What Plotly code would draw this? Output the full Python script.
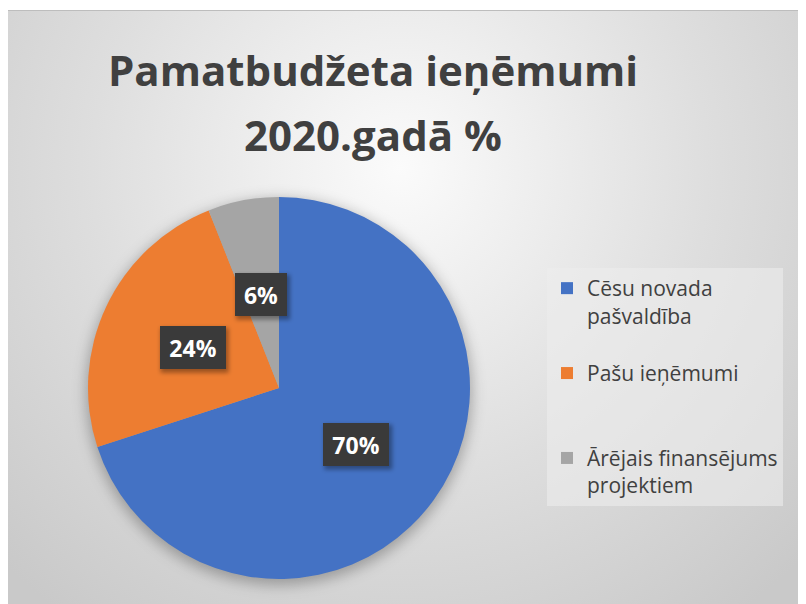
import base64
import math
import plotly.graph_objects as go

# ---- data ----
categories = ["Cēsu novada<br>pašvaldība<br> ", "Pašu ieņēmumi<br> <br> ", "Ārējais finansējums<br>projektiem"]
values = [70, 24, 6]
percent_labels = ["70%", "24%", "6%"]
colors = ["#4472C4", "#ED7D31", "#A5A5A5"]
title_lines = ["Pamatbudžeta ieņēmumi", "2020.gadā %"]

W, H = 806, 604
# pie geometry (pixels, figure coordinates; page adds an 8px body margin)
CX, CY, R = 271, 380, 191

# label boxes: half radius along each slice bisector
total = sum(values)
label_boxes = []
cum = 0
for v, lab in zip(values, percent_labels):
    theta = 2 * math.pi * (cum + v / 2) / total
    cum += v
    px = CX + 0.5 * R * math.sin(theta)
    py = CY - 0.5 * R * math.cos(theta)
    w = 14 * len(lab) + 14
    label_boxes.append((lab, px, py, w))

shadow_rects = "".join(
    f'<rect x="{px - (w + 12) / 2 + 2:.1f}" y="{py - 45 / 2 + 3:.1f}" width="{w + 12}" height="45" '
    f'fill="rgba(0,0,0,0.35)" filter="url(#s)"/>'
    for lab, px, py, w in label_boxes
)

svg = f'''<svg xmlns="http://www.w3.org/2000/svg" width="{W}" height="{H}" viewBox="0 0 {W} {H}">
<defs>
<radialGradient id="g" gradientUnits="userSpaceOnUse" cx="392" cy="160" r="560">
<stop offset="0" stop-color="#fbfbfb"/>
<stop offset="0.55" stop-color="#dedede"/>
<stop offset="1" stop-color="#c9c9c9"/>
</radialGradient>
<filter id="b" x="-30%" y="-30%" width="160%" height="160%"><feGaussianBlur stdDeviation="7"/></filter>
<filter id="s" x="-30%" y="-30%" width="160%" height="160%"><feGaussianBlur stdDeviation="2"/></filter>
</defs>
<rect x="0" y="0" width="{W}" height="{H}" fill="#ffffff"/>
<rect x="-0.5" y="2.5" width="{W + 10}" height="{H}" fill="url(#g)" stroke="#bdbdbd" stroke-width="1"/>
<circle cx="{CX}" cy="{CY + 4}" r="{R + 2}" fill="rgba(0,0,0,0.28)" filter="url(#b)"/>
</svg>'''
shadow_svg = f'''<svg xmlns="http://www.w3.org/2000/svg" width="{W}" height="{H}" viewBox="0 0 {W} {H}">
<defs><filter id="s" x="-30%" y="-30%" width="160%" height="160%"><feGaussianBlur stdDeviation="2"/></filter></defs>
{shadow_rects}
</svg>'''


def uri(s):
    return "data:image/svg+xml;base64," + base64.b64encode(s.encode("utf-8")).decode("ascii")


fig = go.Figure()
fig.add_trace(go.Pie(
    labels=categories,
    values=values,
    marker=dict(colors=colors, line=dict(width=0)),
    sort=False,
    direction="clockwise",
    rotation=0,
    textinfo="none",
    hoverinfo="label+percent",
    domain=dict(x=[(CX - R) / W, (CX + R) / W], y=[(H - CY - R) / H, (H - CY + R) / H]),
    showlegend=True,
))

annotations = []
title_y = [61, 126]
for txt, ty in zip(title_lines, title_y):
    annotations.append(dict(
        text=f"<b>{txt}</b>", x=365 / W, y=1 - ty / H, xref="paper", yref="paper",
        xanchor="center", yanchor="middle", showarrow=False,
        font=dict(family="Open Sans", size=42, color="#404040"),
    ))

for lab, px, py, w in label_boxes:
    annotations.append(dict(
        text=f"<b>{lab}</b>", x=px / W, y=1 - py / H, xref="paper", yref="paper", showarrow=False,
        xanchor="center", yanchor="middle", width=w, height=33, borderpad=5, borderwidth=0,
        bgcolor="#3a3a3a", font=dict(family="Open Sans", size=23, color="#ffffff"),
    ))

fig.update_layout(
    width=W, height=H,
    margin=dict(l=0, r=0, t=0, b=0),
    paper_bgcolor="#ffffff",
    plot_bgcolor="rgba(0,0,0,0)",
    images=[
        dict(source=uri(svg), xref="paper", yref="paper", x=0, y=1, sizex=1, sizey=1,
             xanchor="left", yanchor="top", sizing="stretch", layer="below"),
        dict(source=uri(shadow_svg), xref="paper", yref="paper", x=0, y=1, sizex=1, sizey=1,
             xanchor="left", yanchor="top", sizing="stretch", layer="above"),
    ],
    legend=dict(
        x=539 / W, y=1 - 260 / H, xanchor="left", yanchor="top",
        bgcolor="rgba(236,236,236,0.6)",
        font=dict(family="Open Sans", size=21, color="#404040"),
        valign="top",
        itemclick=False,
    ),
    annotations=annotations,
)

fig.write_html("out.html")
